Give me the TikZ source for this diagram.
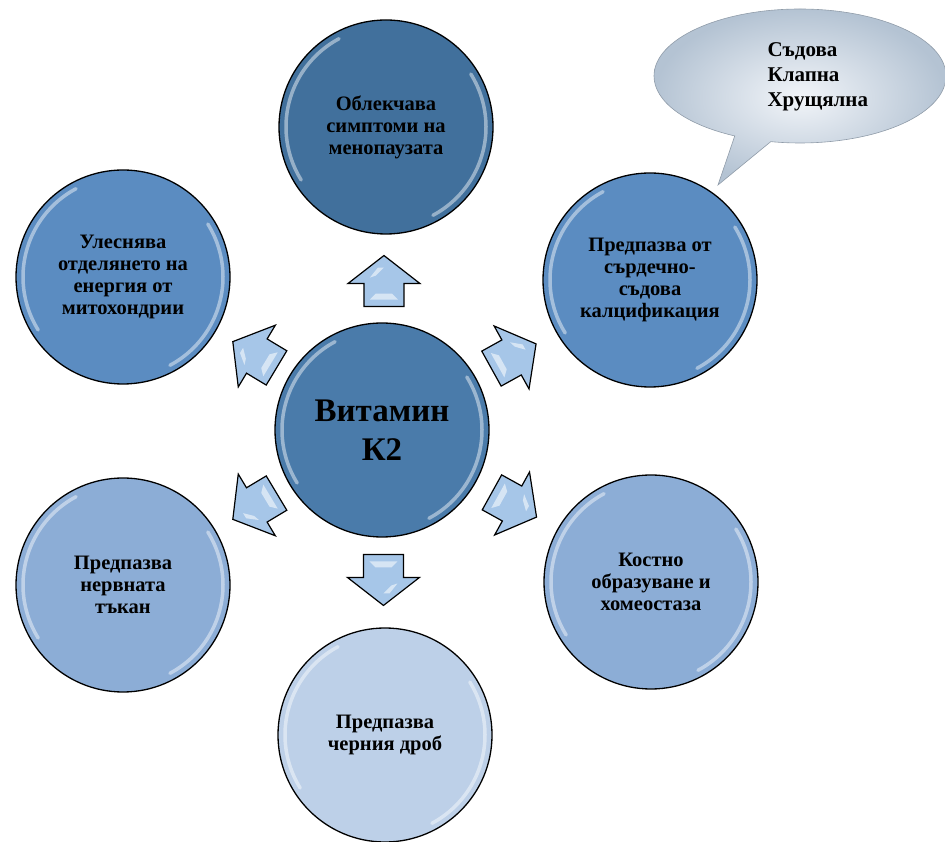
\documentclass[tikz,border=0pt]{standalone}
\usepackage{fontspec}
\setmainfont{Liberation Serif}
\usetikzlibrary{shapes,calc}
\definecolor{ctop}{HTML}{41709C}
\definecolor{cmid}{HTML}{4A7BAA}
\definecolor{cup}{HTML}{5B8CC1}
\definecolor{clow}{HTML}{8CADD6}
\definecolor{cbot}{HTML}{BDD0E8}
\definecolor{arrblue}{HTML}{A6C6E8}
\definecolor{callin}{HTML}{F2F5F9}
\definecolor{callout}{HTML}{B4C3D3}

\tikzset{pics/bigarrow/.style={code={
  \draw[arr] (-25,-20) -- (-2,-20) -- (-2,-36) -- (26,0) -- (-2,36) -- (-2,20) -- (-25,20) -- cycle;
  \fill[white, opacity=.55] (4,14) -- (14,6) -- (14,0) -- (6,8) -- cycle;
  \fill[white, opacity=.55] (-18,-14) -- (-12,-8) -- (-12,8) -- (-18,14) -- cycle;
}}}

\begin{document}
\begin{tikzpicture}[x=1pt, y=1pt,
  kr/.style={circle, draw=black, line width=1.3pt, minimum size=214pt, inner sep=0pt,
    align=center, font=\bfseries\fontsize{20.5}{22}\selectfont},
  arr/.style={draw=black, line width=1.2pt, fill=arrblue, line join=miter},
  gloss/.style={white, opacity=.45, line width=3.5pt, line cap=round}]
\useasboundingbox (0,0) rectangle (945,841);

% circles
\node(K) [kr, fill=cmid, font=\bfseries\fontsize{33}{39}\selectfont] at (382,411) {Витамин\\К2};
\node(A) [kr, fill=ctop] at (386,714) {Облекчава\\симптоми на\\менопаузата};
\node(B) [kr, fill=cup]  at (123,564) {Улеснява\\отделянето на\\енергия от\\митохондрии};
\node(C) [kr, fill=cup]  at (650,561) {Предпазва от\\сърдечно-\\съдова\\калцификация};
\node(D) [kr, fill=clow] at (123,256) {Предпазва\\нервната\\тъкан};
\node(E) [kr, fill=clow] at (651,259) {Костно\\образуване и\\хомеостаза};
\node(F) [kr, fill=cbot] at (385,106) {Предпазва\\черния дроб};

% gloss
\foreach \n in {K,A,B,C,D,E,F} {
  \draw[gloss] ($(\n.center)+(118:100)$) arc[start angle=118, end angle=212, radius=100];
  \draw[gloss] ($(\n.center)+(-62:100)$) arc[start angle=-62, end angle=32, radius=100];
}

% arrows
\foreach \n/\a in {A/90, B/149, C/29, D/211, E/-29, F/-90}
  \pic[rotate=\a] at ($(K)!0.49!(\n)$) {bigarrow};

% callout
\node(N) [ellipse callout, draw=callout!80!black, line width=.6pt, inner color=callin, outer color=callout,
  minimum width=292pt, minimum height=134pt, callout absolute pointer={(718,656)}] at (800,765) {};
\node(N1) [anchor=west, align=left, font=\bfseries\fontsize{21}{25}\selectfont] at (764,764) {Съдова\\Клапна\\Хрущялна};
\end{tikzpicture}
\end{document}
